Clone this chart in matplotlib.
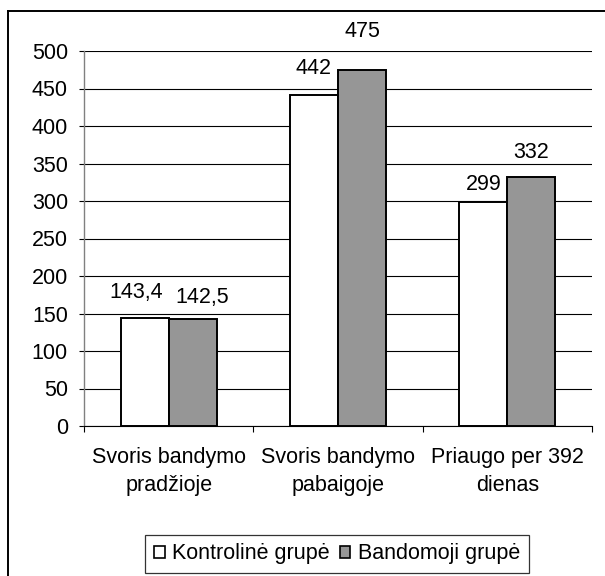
import matplotlib
matplotlib.use("Agg")
import matplotlib.pyplot as plt
from matplotlib.lines import Line2D
from matplotlib.patches import Patch
import numpy as np

categories = ["Svoris bandymo\npradžioje", "Svoris bandymo\npabaigoje", "Priaugo per 392\ndienas"]
kontroline = [143.4, 442, 299]
bandomoji = [142.5, 475, 332]
series_names = ["Kontrolinė grupė", "Bandomoji grupė"]
y_ticks = [0, 50, 100, 150, 200, 250, 300, 350, 400, 450, 500]

plt.rcParams["font.family"] = ["Liberation Sans", "DejaVu Sans"]
FS = 15.5
W, H = 605, 576

fig = plt.figure(figsize=(W / 100, H / 100), dpi=100)
ax = fig.add_axes([84 / W, 1 - 426 / H, (592 - 84) / W, (426 - 51) / H])

x = np.arange(len(categories))
bw = 0.2835
b1 = ax.bar(x - bw / 2, kontroline, bw, color="white", edgecolor="black", linewidth=1.4, zorder=3)
b2 = ax.bar(x + bw / 2, bandomoji, bw, color="#969696", edgecolor="black", linewidth=1.4, zorder=3)

# value labels above the bars (pixel offsets of the label centre from the bar top)
offsets1 = [(-8, 26), (0, 26), (0, 17)]
offsets2 = [(10, 22), (0, 38), (0, 25)]
for bars, vals, offs in ((b1, kontroline, offsets1), (b2, bandomoji, offsets2)):
    for rect, v, (dx, dy) in zip(bars, vals, offs):
        ax.annotate(f"{v:g}".replace(".", ","),
                    (rect.get_x() + rect.get_width() / 2, v),
                    xytext=(dx, dy), textcoords="offset pixels",
                    ha="center", va="center", fontsize=FS, annotation_clip=False)

ax.set_xlim(-0.5, len(categories) - 0.5)
ax.set_ylim(0, 500)
ax.set_yticks(y_ticks)
ax.set_yticklabels([str(t) for t in y_ticks], fontsize=FS)
ax.yaxis.grid(True, color="black", linewidth=0.8)
ax.set_axisbelow(True)
ax.tick_params(axis="y", length=3.6, width=0.8, pad=8, color="black")

ax.set_xticks(x)
ax.set_xticklabels(categories, fontsize=FS, linespacing=1.45)
ax.set_xticks(np.arange(len(categories) + 1) - 0.5, minor=True)
ax.tick_params(axis="x", which="major", length=0, pad=15)
ax.tick_params(axis="x", which="minor", length=4, width=0.8, color="black")

for s in ("top", "right"):
    ax.spines[s].set_visible(False)
ax.spines["left"].set_color("#808080")
ax.spines["left"].set_linewidth(1.0)
ax.spines["bottom"].set_color("black")
ax.spines["bottom"].set_linewidth(0.8)

handles = [Patch(facecolor="white", edgecolor="black", linewidth=1.2),
           Patch(facecolor="#969696", edgecolor="black", linewidth=1.2)]
leg = fig.legend(handles, series_names, loc="center",
                 bbox_to_anchor=(337 / W, 1 - 554 / H), ncol=2, fontsize=FS,
                 frameon=True, fancybox=False, handlelength=0.5, handleheight=0.5,
                 handletextpad=0.35, columnspacing=0.45, borderpad=0.4, borderaxespad=0)
leg.get_frame().set_edgecolor("black")
leg.get_frame().set_linewidth(0.9)

# chart area border (top and left edges)
fig.add_artist(Line2D([8 / W, 1], [1 - 11 / H, 1 - 11 / H], color="black", linewidth=1.4,
                      transform=fig.transFigure))
fig.add_artist(Line2D([8 / W, 8 / W], [1 - 11 / H, 0], color="black", linewidth=1.4,
                      transform=fig.transFigure))

fig.savefig("out.png", dpi=100)
